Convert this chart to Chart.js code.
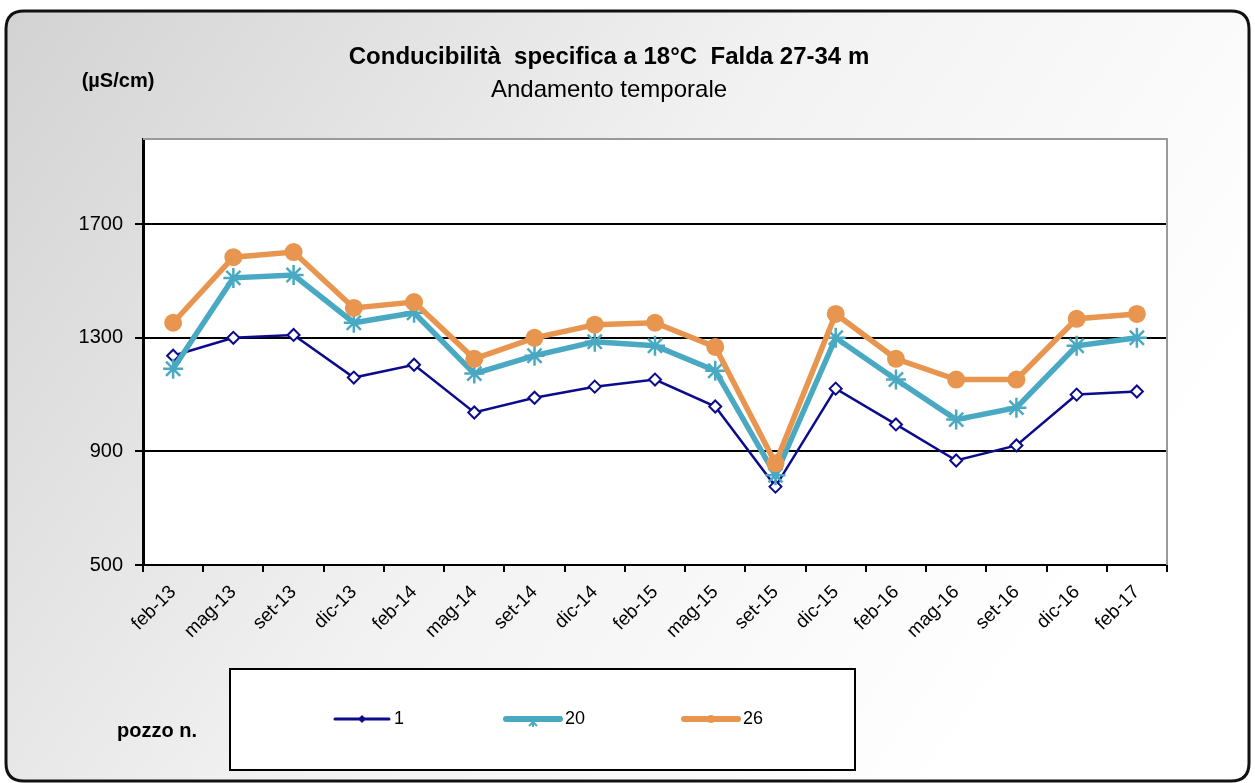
<!DOCTYPE html>
<html>
<head>
<meta charset="utf-8">
<script src="https://cdn.jsdelivr.net/npm/chart.js@4/dist/chart.umd.min.js"></script>
<style>
  html, body { margin: 0; padding: 0; background: #fff; }
  canvas { display: block; }
</style>
</head>
<body>
<canvas id="cond" width="1255" height="783"></canvas>
<script>
// dati
const categories = ['feb-13', 'mag-13', 'set-13', 'dic-13', 'feb-14', 'mag-14', 'set-14', 'dic-14',
    'feb-15', 'mag-15', 'set-15', 'dic-15', 'feb-16', 'mag-16', 'set-16', 'dic-16', 'feb-17'];
const pozzo1 = [1237, 1300, 1310, 1160, 1205, 1037, 1089, 1128, 1153, 1058, 776, 1121, 995, 868, 921, 1100, 1111];
const pozzo20 = [1191, 1511, 1521, 1353, 1388, 1174, 1237, 1286, 1272, 1184, 816, 1300, 1153, 1012, 1054, 1272, 1300];
const pozzo26 = [1353, 1584, 1602, 1405, 1426, 1226, 1300, 1346, 1353, 1268, 858, 1384, 1226, 1153, 1153, 1367, 1384];
const yTicks = [500, 900, 1300, 1700];

const FONT = '"Liberation Sans", Arial, sans-serif';
const NAVY = '#0b0b8c';
const TEAL = '#4aa9c2';
const ORANGE = '#e8964f';

function roundRect(c, x, y, w, h, r) {
    c.beginPath();
    c.moveTo(x + r, y);
    c.lineTo(x + w - r, y);
    c.quadraticCurveTo(x + w, y, x + w, y + r);
    c.lineTo(x + w, y + h - r);
    c.quadraticCurveTo(x + w, y + h, x + w - r, y + h);
    c.lineTo(x + r, y + h);
    c.quadraticCurveTo(x, y + h, x, y + h - r);
    c.lineTo(x, y + r);
    c.quadraticCurveTo(x, y, x + r, y);
    c.closePath();
}

// sfondo, cornice, titoli e legenda
const decor = {
    id: 'decor',
    beforeDraw(chart) {
        const c = chart.ctx;
        const a = chart.chartArea;
        c.save();
        c.fillStyle = '#fff';
        c.fillRect(0, 0, chart.width, chart.height);
        const g = c.createLinearGradient(0, 0, 1000, 700);
        g.addColorStop(0, '#d2d2d2');
        g.addColorStop(0.55, '#f2f2f2');
        g.addColorStop(1, '#ffffff');
        roundRect(c, 6, 11, 1243, 770, 18);
        c.fillStyle = g;
        c.fill();
        c.lineWidth = 3;
        c.strokeStyle = '#111';
        c.stroke();
        c.fillStyle = '#fff';
        c.fillRect(a.left, a.top, a.right - a.left, a.bottom - a.top);
        c.restore();
    },
    afterDraw(chart) {
        const c = chart.ctx;
        const a = chart.chartArea;
        c.save();
        // bordo superiore e destro
        c.strokeStyle = '#999';
        c.lineWidth = 2;
        c.beginPath();
        c.moveTo(a.left, a.top);
        c.lineTo(a.right, a.top);
        c.lineTo(a.right, a.bottom);
        c.stroke();

        c.fillStyle = '#000';
        c.textAlign = 'center';
        c.textBaseline = 'middle';
        c.font = 'bold 24px ' + FONT;
        c.fillText('Conducibilità  specifica a 18°C  Falda 27-34 m', 609, 57);
        c.font = '24px ' + FONT;
        c.fillText('Andamento temporale', 609, 90);
        c.font = 'bold 20px ' + FONT;
        c.fillText('(µS/cm)', 118, 81);

        // legenda
        c.fillStyle = '#fff';
        c.fillRect(230, 669, 625, 101);
        c.lineWidth = 2;
        c.strokeStyle = '#000';
        c.strokeRect(230, 669, 625, 101);
        c.fillStyle = '#000';
        c.font = 'bold 20px ' + FONT;
        c.textAlign = 'left';
        c.fillText('pozzo n.', 117, 731);

        const ly = 719;
        const items = [
            { x: 335, ds: chart.data.datasets[0], w: 3 },
            { x: 506, ds: chart.data.datasets[1], w: 6 },
            { x: 684, ds: chart.data.datasets[2], w: 6 }
        ];
        items.forEach(it => {
            c.strokeStyle = it.ds.borderColor;
            c.lineWidth = it.w;
            c.lineCap = 'round';
            c.beginPath();
            c.moveTo(it.x, ly);
            c.lineTo(it.x + 54, ly);
            c.stroke();
            const mx = it.x + 27;
            if (it.ds.pointStyle === 'rectRot') {
                c.fillStyle = it.ds.borderColor;
                c.beginPath();
                c.moveTo(mx, ly - 4); c.lineTo(mx + 4, ly); c.lineTo(mx, ly + 4); c.lineTo(mx - 4, ly);
                c.closePath();
                c.fill();
            } else if (it.ds.pointStyle === 'star') {
                c.lineWidth = 2;
                c.lineCap = 'butt';
                c.beginPath();
                c.moveTo(mx - 4, ly + 7); c.lineTo(mx, ly + 3); c.lineTo(mx + 4, ly + 7);
                c.moveTo(mx, ly + 3); c.lineTo(mx, ly + 8);
                c.stroke();
            } else {
                c.fillStyle = it.ds.borderColor;
                c.beginPath();
                c.arc(mx, ly, 4, 0, Math.PI * 2);
                c.fill();
            }
            c.fillStyle = '#000';
            c.font = '18px ' + FONT;
            c.textAlign = 'left';
            c.fillText(it.ds.label, it.x + 59, ly);
        });
        c.restore();
    }
};

const ctx = document.getElementById('cond').getContext('2d');
const chart = new Chart(ctx, {
    type: 'line',
    data: {
        labels: categories,
        datasets: [{
            label: '1',
            data: pozzo1,
            borderColor: NAVY,
            borderWidth: 2.5,
            pointStyle: 'rectRot',
            pointRadius: 6,
            pointBorderWidth: 2,
            pointBackgroundColor: '#fff',
            pointBorderColor: NAVY,
            tension: 0,
            order: 3
        }, {
            label: '20',
            data: pozzo20,
            borderColor: TEAL,
            borderWidth: 5.5,
            pointStyle: 'star',
            pointRadius: 10,
            pointBorderWidth: 2.5,
            pointBorderColor: TEAL,
            tension: 0,
            order: 2
        }, {
            label: '26',
            data: pozzo26,
            borderColor: ORANGE,
            borderWidth: 5.5,
            pointStyle: 'circle',
            pointRadius: 9,
            pointBorderWidth: 0,
            pointBackgroundColor: ORANGE,
            tension: 0,
            order: 1
        }]
    },
    options: {
        responsive: false,
        animation: false,
        devicePixelRatio: 1,
        layout: { padding: { top: 139, right: 88, left: 0, bottom: 0 } },
        scales: {
            x: {
                offset: true,
                grid: {
                    offset: true,
                    drawOnChartArea: false,
                    color: '#000',
                    lineWidth: 2,
                    tickLength: 7
                },
                border: { color: '#000', width: 2 },
                ticks: {
                    color: '#000',
                    font: { family: FONT, size: 19 },
                    maxRotation: 45,
                    minRotation: 45,
                    autoSkip: false,
                    padding: 9
                },
                afterFit: s => { s.height = 218; }
            },
            y: {
                min: 500,
                max: 2000,
                afterBuildTicks: s => { s.ticks = yTicks.map(v => ({ value: v })); },
                grid: { color: '#000', lineWidth: 2, tickLength: 8 },
                border: { color: '#000', width: 3 },
                ticks: {
                    color: '#000',
                    font: { family: FONT, size: 20 },
                    padding: 12,
                    callback: v => String(v)
                },
                afterFit: s => { s.width = 143; }
            }
        },
        plugins: {
            legend: { display: false },
            tooltip: { enabled: false }
        }
    },
    plugins: [decor]
});
</script>
</body>
</html>
